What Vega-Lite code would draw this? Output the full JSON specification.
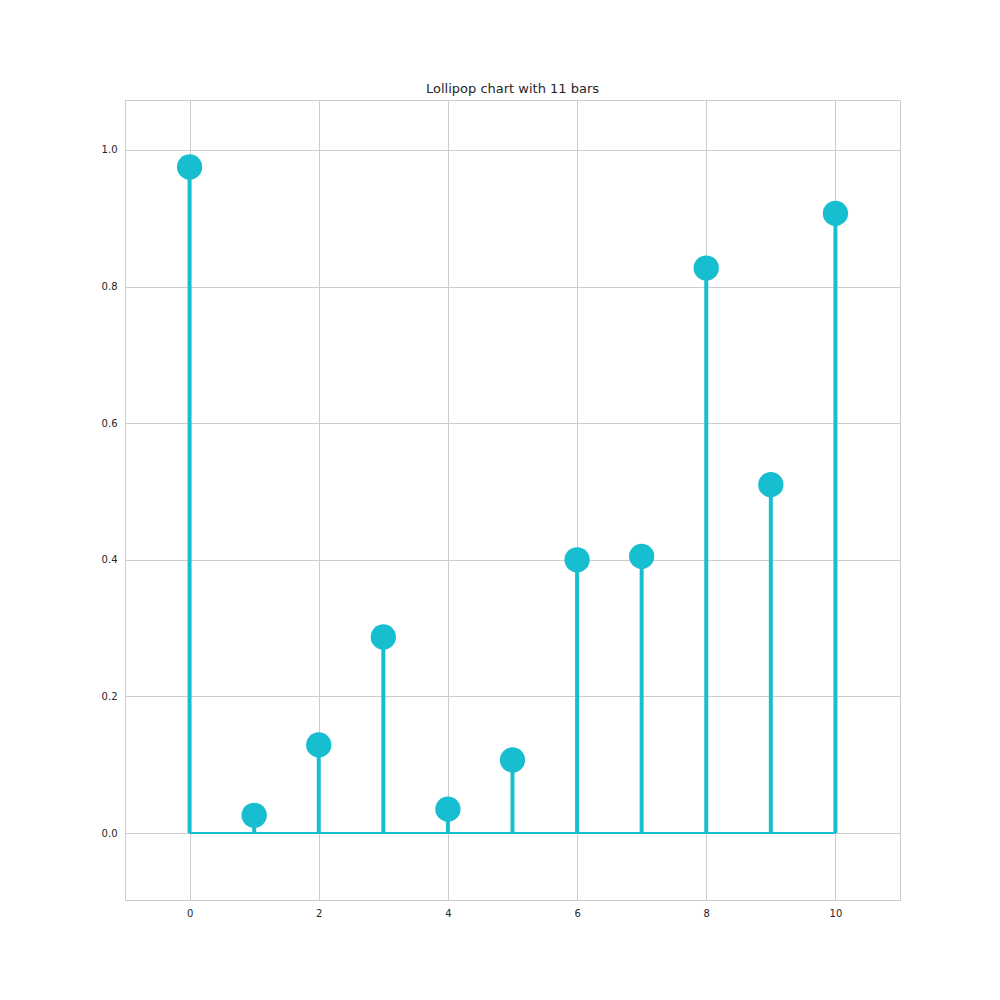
{"$schema":"https://vega.github.io/schema/vega-lite/v6.json","width":775,"height":800,"autosize":"none","padding":{"left":125,"top":100,"right":100,"bottom":100},
"title":{"text":"Lollipop chart with 11 bars","fontSize":13,"fontWeight":"normal","font":"DejaVu Sans","color":"#262626","offset":4},
"config":{"view":{"stroke":"#cccccc","strokeWidth":1},"axis":{"grid":true,"gridColor":"#cccccc","domain":false,"ticks":false,"labelFont":"DejaVu Sans","labelFontSize":10,"labelColor":"#262626","title":null,"labelPadding":8}},
"data":{"values":[{"x":0,"y":0.975},{"x":1,"y":0.026},{"x":2,"y":0.129},{"x":3,"y":0.287},{"x":4,"y":0.035},{"x":5,"y":0.107},{"x":6,"y":0.400},{"x":7,"y":0.405},{"x":8,"y":0.827},{"x":9,"y":0.510},{"x":10,"y":0.907}]},
"encoding":{"x":{"field":"x","type":"quantitative","scale":{"domain":[-1,11],"nice":false},"axis":{"values":[0,2,4,6,8,10],"format":"d"}}},
"layer":[
{"mark":{"type":"rule","color":"#17becf","strokeWidth":2},"transform":[{"aggregate":[{"op":"min","field":"x","as":"x"},{"op":"max","field":"x","as":"x2"}]}],"encoding":{"x":{"field":"x","type":"quantitative"},"x2":{"field":"x2"},"y":{"datum":0,"type":"quantitative"}}},
{"mark":{"type":"rule","color":"#17becf","strokeWidth":4},"encoding":{"y":{"field":"y","type":"quantitative","scale":{"domain":[-0.098,1.073],"nice":false,"zero":false},"axis":{"values":[0,0.2,0.4,0.6,0.8,1.0],"format":".1f"}},"y2":{"datum":0}}},
{"mark":{"type":"circle","color":"#17becf","opacity":1,"size":640},"encoding":{"y":{"field":"y","type":"quantitative"}}}
]}
